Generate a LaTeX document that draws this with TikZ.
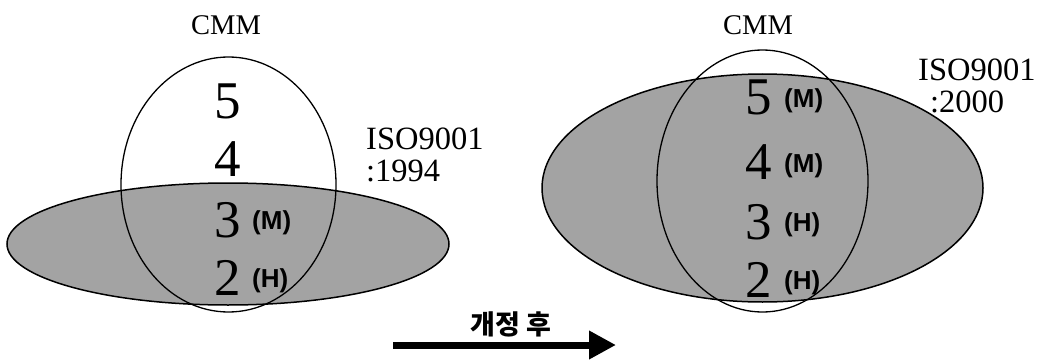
\documentclass[tikz,border=0pt]{standalone}
\usepackage{fontspec}
\setmainfont{Liberation Serif}
\setsansfont{Liberation Sans}
\newfontfamily\krfont{Noto Sans CJK KR}
\usetikzlibrary{shapes.geometric,arrows.meta}
\begin{document}
\begin{tikzpicture}[x=1pt,y=-1pt,
  cmmoval/.style={ellipse,draw=black,line width=1.3pt,inner sep=0pt},
  isooval/.style={ellipse,draw=black,line width=1.5pt,fill=black!36,inner sep=0pt},
  title/.style={font=\fontsize{28.5}{30}\selectfont},
  isolabel/.style={font=\fontsize{32.5}{32}\selectfont,align=left,anchor=west,inner sep=0pt},
  level/.style={font=\fontsize{53}{53}\selectfont,inner sep=0pt},
  grade/.style={font=\sffamily\bfseries\fontsize{26}{26}\selectfont,inner sep=0pt,anchor=west},
  revarrow/.style={line width=7pt,-{Triangle[length=27pt,width=27pt]}}]
\useasboundingbox (0,0) rectangle (1041,361);
% left diagram
\node[isooval,minimum width=442pt,minimum height=122pt] (iso1) at (228,244) {};
\node[cmmoval,minimum width=215pt,minimum height=255pt] (cmm1) at (228.5,184.5) {};
\node[title] (t1) at (226,25) {CMM};
\node[isolabel] (i1) at (366,155) {ISO9001\\:1994};
\node[level] (l15) at (228,101) {5};
\node[level] (l14) at (228,159) {4};
\node[level] (l13) at (228,220) {3};
\node[level] (l12) at (228,278) {2};
\node[grade] (g13) at (252,223) {(M)};
\node[grade] (g12) at (252,281) {(H)};
% right diagram
\node[isooval,minimum width=441pt,minimum height=228pt] (iso2) at (762.5,188) {};
\node[cmmoval,minimum width=211pt,minimum height=262pt] (cmm2) at (762.5,181) {};
\node[title] (t2) at (758,25) {CMM};
\node[isolabel] (i2) at (918,86) {ISO9001\\\hspace*{12pt}:2000};
\node[level] (l25) at (759,97) {5};
\node[level] (l24) at (759,162) {4};
\node[level] (l23) at (759,222) {3};
\node[level] (l22) at (759,280) {2};
\node[grade] (g25) at (784,101) {(M)};
\node[grade] (g24) at (784,166) {(M)};
\node[grade] (g23) at (784,225) {(H)};
\node[grade] (g22) at (784,283) {(H)};
% arrow
\coordinate (a0) at (393,345);
\coordinate (a1) at (616,345);
\node[font=\krfont\bfseries\fontsize{27}{27}\selectfont] (rev) at (511,324) {개정 후};
\draw[revarrow] (a0) -- (a1);
\end{tikzpicture}
\end{document}
